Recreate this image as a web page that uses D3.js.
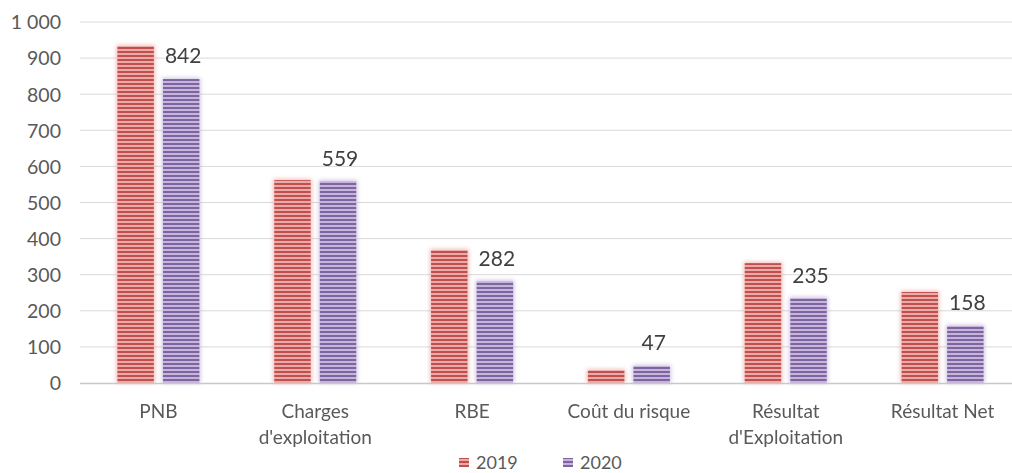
<!DOCTYPE html>
<html><head><meta charset="utf-8">
<script src="https://cdn.jsdelivr.net/npm/d3@7"></script>
<style>body{margin:0;background:#fff}svg{display:block}</style>
</head><body>
<svg id="c" width="1012" height="473"></svg>
<script>
const categories = [["PNB"],["Charges","d'exploitation"],["RBE"],["Coût du risque"],["Résultat","d'Exploitation"],["Résultat Net"]];
const series = ["2019","2020"];
const values2019 = [933, 562, 368, 35, 332, 252];
const values2020 = [842, 559, 282, 47, 235, 158];
const yTicks = [0,100,200,300,400,500,600,700,800,900,1000];

const svg = d3.select("#c");
const font = "Lato, 'Open Sans', sans-serif";
const x = d3.scaleBand().domain(d3.range(categories.length)).range([80, 1021]);
const xs = d3.scaleBand().domain(series).range([-41, 41]).paddingInner(0.2);
const y = d3.scaleLinear().domain([0, 1000]).range([383, 22]);

const defs = svg.append("defs");
const pal = {"2019": ["#c0504d", "#eba9a7"], "2020": ["#8064a2", "#c4b5da"]};
series.forEach(s => {
  const p = defs.append("pattern").attr("id","p"+s).attr("patternUnits","userSpaceOnUse")
    .attr("width", 8).attr("height", 4).attr("y", 383);
  p.append("rect").attr("width",8).attr("height",4).attr("fill", pal[s][1]);
  p.append("rect").attr("width",8).attr("height",2).attr("fill", pal[s][0]);
});
const f = defs.append("filter").attr("id","glow").attr("x","-50%").attr("y","-50%").attr("width","200%").attr("height","200%");
f.append("feGaussianBlur").attr("stdDeviation", 2.2);

// gridlines
svg.append("g").selectAll("line").data(yTicks.slice(1)).join("line")
  .attr("x1", 80).attr("x2", 1012).attr("y1", d => y(d)).attr("y2", d => y(d))
  .attr("stroke", "#d9d9d9").attr("stroke-width", 1);

// y axis
const yAxis = d3.axisLeft(y).tickValues(yTicks).tickSize(0).tickPadding(0)
  .tickFormat(d => d3.format(",")(d).replace(/,/g, " "));
const ga = svg.append("g").attr("transform","translate(61,0)").call(yAxis);
ga.select(".domain").remove();
ga.selectAll("text").attr("font-family", font).attr("font-size", 19.5).attr("fill", "#595959").attr("dy","0.35em");

const data = [];
categories.forEach((c,i) => {
  data.push({i, s:"2019", v: values2019[i]});
  data.push({i, s:"2020", v: values2020[i]});
});
const bx = d => x(d.i) + x.bandwidth()/2 + xs(d.s);

// glow
svg.append("g").attr("filter","url(#glow)").selectAll("rect").data(data).join("rect")
  .attr("x", d => bx(d) - 1).attr("width", xs.bandwidth() + 2)
  .attr("y", d => y(d.v) - 1).attr("height", d => y(0) - y(d.v) + 1)
  .attr("fill", d => pal[d.s][1]).attr("opacity", 0.8);
svg.append("g").selectAll("rect").data(data).join("rect")
  .attr("x", d => bx(d)).attr("width", xs.bandwidth())
  .attr("y", d => y(d.v)).attr("height", d => y(0) - y(d.v))
  .attr("fill", d => `url(#p${d.s})`);

// axis line
svg.append("line").attr("x1",80).attr("x2",1012).attr("y1",383.5).attr("y2",383.5)
  .attr("stroke","#c8c8c8").attr("stroke-width",1.5);

// labels on 2020
svg.append("g").selectAll("text").data(data.filter(d => d.s === "2020")).join("text")
  .attr("x", d => bx(d) + xs.bandwidth()/2 + 2).attr("y", d => y(d.v) - 23)
  .attr("dy","0.35em").attr("text-anchor","middle")
  .attr("font-family", font).attr("font-size", 21).attr("fill", "#404040")
  .text(d => d.v);

// category labels
const cl = svg.append("g").selectAll("text").data(categories).join("text")
  .attr("x", (d,i) => x(i) + x.bandwidth()/2).attr("y", 411)
  .attr("text-anchor","middle").attr("font-family", font).attr("font-size", 19).attr("fill","#595959");
cl.selectAll("tspan").data(d => d).join("tspan")
  .attr("x", function(){ return d3.select(this.parentNode).attr("x"); })
  .attr("dy", (d,j) => j === 0 ? "0.35em" : "1.4em").text(d => d);

// legend
const legX = [459, 563];
const lg = svg.append("g").selectAll("g").data(series).join("g")
  .attr("transform", (d,i) => `translate(${legX[i]},458)`);
lg.append("rect").attr("width", 10).attr("height", 9).attr("fill", d => `url(#p${d})`);
lg.append("text").attr("x", 17).attr("y", 4.5).attr("dy","0.35em")
  .attr("font-family", font).attr("font-size", 18).attr("fill","#595959").text(d => d);
</script>
</body></html>
